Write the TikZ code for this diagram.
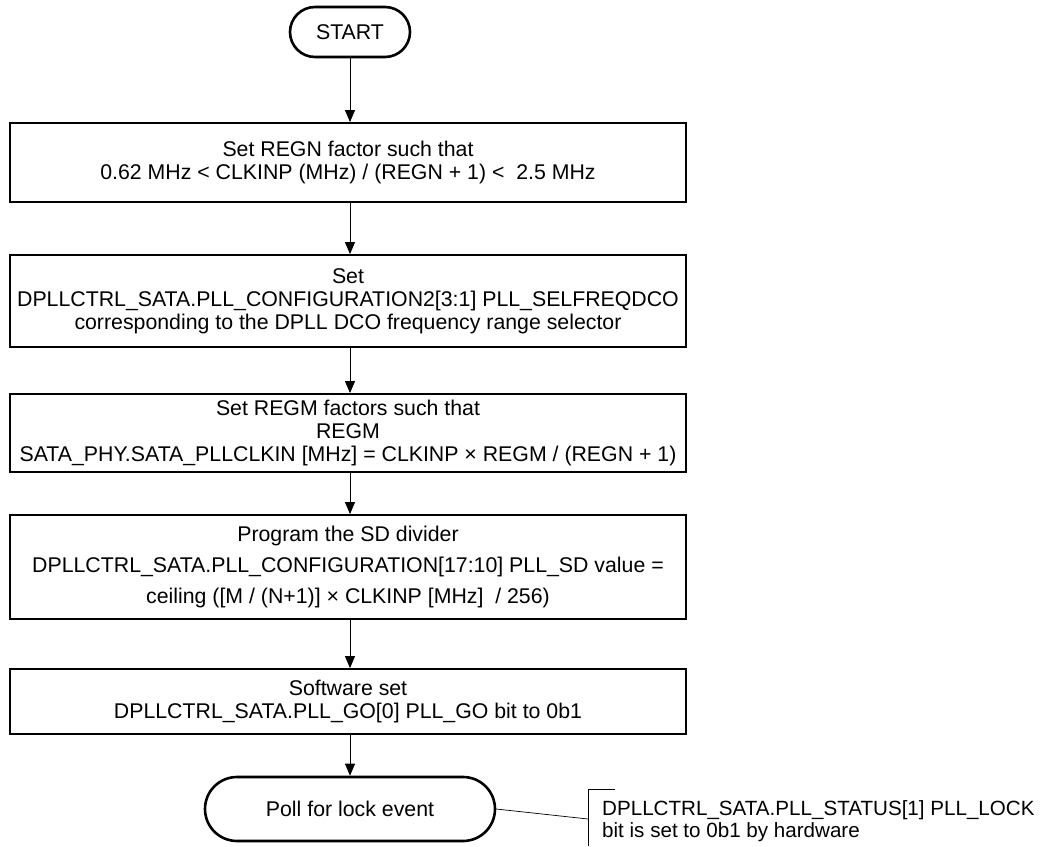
\documentclass[tikz,border=0pt]{standalone}
\usepackage{fontspec}
\setmainfont{Liberation Sans}
\usetikzlibrary{arrows.meta,shapes.misc}
\begin{document}
\begin{tikzpicture}[x=1pt,y=-1pt,
  txt/.style={font=\fontsize{21.3}{23}\selectfont},
  stepbox/.style={draw, line width=1.8pt, minimum width=676pt, inner sep=0pt, align=center, txt},
  term/.style={draw, line width=2.6pt, rounded rectangle, inner sep=0pt, align=center, txt},
  arr/.style={line width=0.9pt, -{Triangle[length=12pt,width=10pt]}},
  thin/.style={line width=0.7pt}]
\useasboundingbox (0,0) rectangle (1052,846);
\node[term, minimum width=120pt, minimum height=50pt] (start) at (350,32) {START};
\node[stepbox, minimum height=79pt] (b1) at (348,162.5) {Set REGN factor such that\\0.62 MHz < CLKINP (MHz) / (REGN + 1) <\ \ 2.5 MHz};
\node[stepbox, minimum height=92pt] (b2) at (348,301) {Set\\DPLLCTRL\_SATA.PLL\_CONFIGURATION2[3:1] PLL\_SELFREQDCO\\corresponding to the DPLL DCO frequency range selector};
\node[stepbox, minimum height=78pt] (b3) at (348,433) {Set REGM factors such that\\REGM\\SATA\_PHY.SATA\_PLLCLKIN [MHz] = CLKINP × REGM / (REGN + 1)};
\node[stepbox, minimum height=104pt, font=\fontsize{21.3}{31}\selectfont] (b4) at (348,567) {Program the SD divider\\DPLLCTRL\_SATA.PLL\_CONFIGURATION[17:10] PLL\_SD value =\\ceiling ([M / (N+1)] × CLKINP [MHz]\ \ / 256)};
\node[stepbox, minimum height=65pt] (b5) at (348,701.5) {Software set\\DPLLCTRL\_SATA.PLL\_GO[0] PLL\_GO bit to 0b1};
\node[term, minimum width=290pt, minimum height=64pt] (poll) at (350,809) {Poll for lock event};
\node[anchor=west, align=left, inner sep=0pt, font=\fontsize{20.6}{22}\selectfont] (note) at (602,821) {DPLLCTRL\_SATA.PLL\_STATUS[1] PLL\_LOCK\\bit is set to 0b1 by hardware};
\draw[arr] (start.south) -- (start.south |- b1.north);
\draw[arr] (b1.south -| start) -- (b2.north -| start);
\draw[arr] (b2.south -| start) -- (b3.north -| start);
\draw[arr] (b3.south -| start) -- (b4.north -| start);
\draw[arr] (b4.south -| start) -- (b5.north -| start);
\draw[arr] (b5.south -| start) -- (poll.north);
\coordinate (brk) at (588,819);
\coordinate (brktop) at (588,789);
\coordinate (brkbot) at (588,846);
\draw[thin] (poll.east) -- (brk);
\draw[thin] (brkbot) -- (brktop) -- ++(27,0);
\end{tikzpicture}
\end{document}
